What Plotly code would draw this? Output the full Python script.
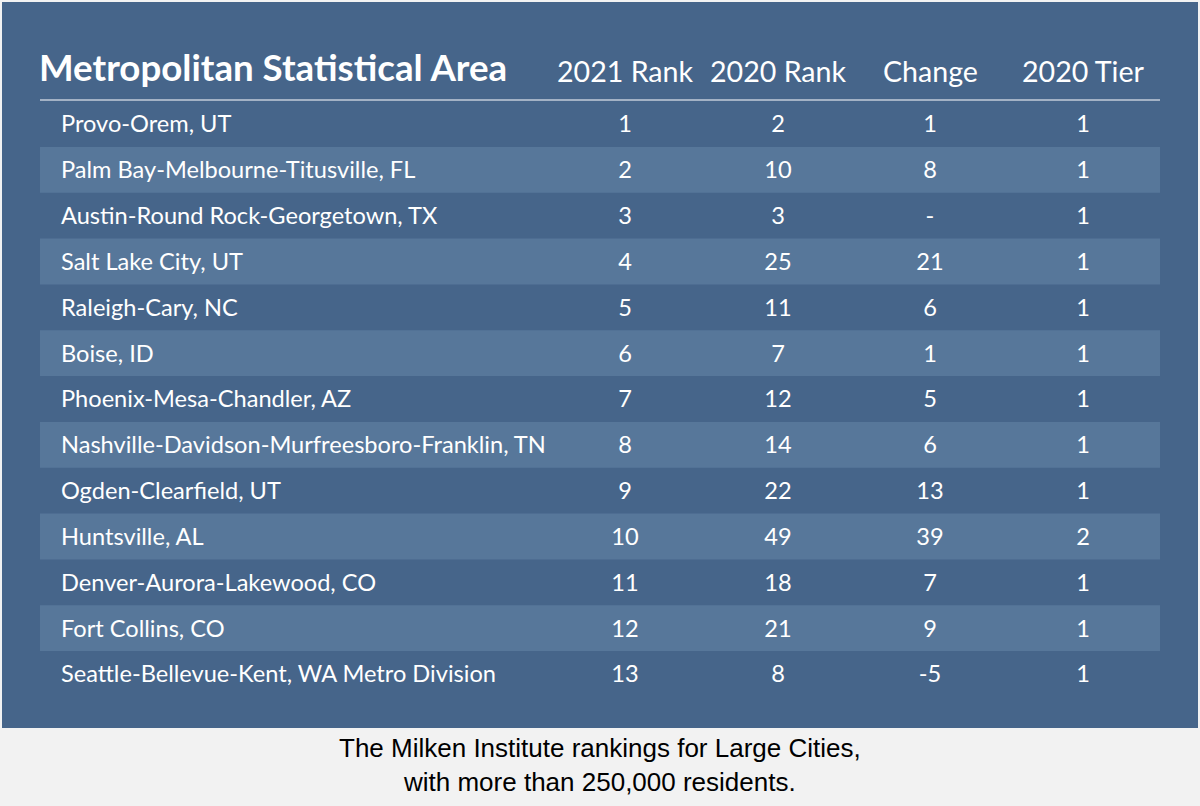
import plotly.graph_objects as go

metros = [
    "Provo-Orem, UT",
    "Palm Bay-Melbourne-Titusville, FL",
    "Austin-Round Rock-Georgetown, TX",
    "Salt Lake City, UT",
    "Raleigh-Cary, NC",
    "Boise, ID",
    "Phoenix-Mesa-Chandler, AZ",
    "Nashville-Davidson-Murfreesboro-Franklin, TN",
    "Ogden-Clearfield, UT",
    "Huntsville, AL",
    "Denver-Aurora-Lakewood, CO",
    "Fort Collins, CO",
    "Seattle-Bellevue-Kent, WA Metro Division",
]
rank_2021 = [1, 2, 3, 4, 5, 6, 7, 8, 9, 10, 11, 12, 13]
rank_2020 = [2, 10, 3, 25, 11, 7, 12, 14, 22, 49, 18, 21, 8]
change = ["1", "8", "-", "21", "6", "1", "5", "6", "13", "39", "7", "9", "-5"]
tier_2020 = [1, 1, 1, 1, 1, 1, 1, 1, 1, 2, 1, 1, 1]

title_text = "Metropolitan Statistical Area"
col_headers = ["2021 Rank", "2020 Rank", "Change", "2020 Tier"]
caption = "The Milken Institute rankings for Large Cities,<br>with more than 250,000 residents."

BG = "#46658A"
STRIPE = "#57779A"
PAGE = "#F2F2F2"
FONT = "Lato"

W, H = 1200, 806
row_px0, row_step = 126.5, 45.83
y_top = (0 - row_px0) / row_step
y_bot = (H - row_px0) / row_step
stripe_shift = -2.5 / row_step

rows = list(range(len(metros)))
col_x = [625, 778, 930, 1083]
name_x = 61

fig = go.Figure()

fig.add_trace(go.Scatter(
    x=[name_x] * len(metros), y=rows, text=metros, mode="text",
    textposition="middle right",
    textfont=dict(family=FONT, size=23.6, color="white"),
    hoverinfo="skip", showlegend=False,
))
for cx, vals in zip(col_x, [rank_2021, rank_2020, change, tier_2020]):
    fig.add_trace(go.Scatter(
        x=[cx] * len(vals), y=rows, text=[str(v) for v in vals], mode="text",
        textposition="middle center",
        textfont=dict(family=FONT, size=23.6, color="white"),
        hoverinfo="skip", showlegend=False,
    ))

shapes = [
    dict(type="rect", xref="x", yref="y", x0=2, x1=1198,
         y0=(2 - row_px0) / row_step, y1=(728 - row_px0) / row_step,
         fillcolor=BG, line=dict(width=0), layer="below"),
]
for r in rows:
    if r % 2 == 1:
        shapes.append(dict(type="rect", xref="x", yref="y", x0=40, x1=1160,
                           y0=r - 0.5 + stripe_shift, y1=r + 0.5 + stripe_shift,
                           fillcolor=STRIPE, line=dict(width=0), layer="below"))
line_y = (100 - row_px0) / row_step
shapes.append(dict(type="line", xref="x", yref="y", x0=40, x1=1160,
                   y0=line_y, y1=line_y, line=dict(color="white", width=1.2)))

header_y = (71 - row_px0) / row_step
annotations = [
    dict(x=37, y=(67 - row_px0) / row_step, xref="x", yref="y", text="<b>" + title_text + "</b>",
         showarrow=False, xanchor="left", yanchor="middle",
         font=dict(family=FONT, size=36.7, color="white")),
]
for cx, h in zip(col_x, col_headers):
    annotations.append(dict(x=cx, y=header_y, xref="x", yref="y", text=h,
                            showarrow=False, xanchor="center", yanchor="middle",
                            font=dict(family=FONT, size=28.6, color="white")))
annotations.append(dict(x=600, y=(765 - row_px0) / row_step, xref="x", yref="y", text=caption,
                        showarrow=False, xanchor="center", yanchor="middle",
                        font=dict(family="Liberation Sans, Arial", size=26, color="black")))

fig.update_layout(
    width=W, height=H,
    margin=dict(l=0, r=0, t=0, b=0),
    paper_bgcolor=PAGE, plot_bgcolor=PAGE,
    xaxis=dict(range=[0, W], visible=False, fixedrange=True),
    yaxis=dict(range=[y_bot, y_top], visible=False, fixedrange=True),
    shapes=shapes, annotations=annotations,
)

fig.write_html("out.html", post_script="document.body.style.margin='0';",
               config={"displayModeBar": False})
